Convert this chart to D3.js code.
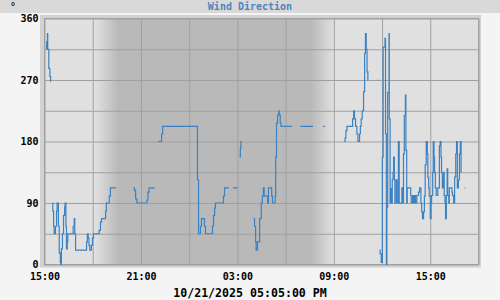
<!DOCTYPE html>
<html>
<head>
<meta charset="utf-8">
<script src="https://cdn.jsdelivr.net/npm/d3@7"></script>
<style>
  body { margin: 0; background: #f4f4f4; }
  svg { display: block; font-family: "DejaVu Sans Mono", monospace; }
</style>
</head>
<body>
<script>
const w = 500;
const h = 300;
const margin = {top: 18.5, right: 21.5, bottom: 35.5, left: 44.5};

const startDay = "2025-10-20";
const domainTimes = ["15:00", "00:00", "18:00"]; // start, midnight, end (next day)
const gridTicks = ["15:00","18:00","21:00","00:00","03:00","06:00","09:00","12:00","15:00","18:00"];
const labelTicks = ["15:00","21:00","03:00","09:00","15:00"];
const yGrid = [0,45,90,135,180,225,270,315,360];
const yLabels = [0,90,180,270,360];
const nightTimes = ["18:10","19:35","07:35","09:00"]; // fade in, dark, fade out, light
const titleText = "Wind Direction";
const dateText = "10/21/2025 05:05:00 PM";

const windTimes = [
  "15:06","15:08","15:11","15:12","15:16","15:20","15:23","15:24","15:27",
  "15:30","15:31","15:34","15:36","15:41","15:45","15:47","15:52","15:55","15:59","16:01","16:03","16:07","16:11","16:15","16:17","16:20","16:22","16:25","16:27","16:47","16:51","16:53","16:56","17:37","17:40","17:43","17:46","17:49","17:55","17:59","18:03","18:24","18:29","18:33","18:48","18:51","19:02","19:06","19:27","19:30",
  "20:32","20:36","20:40","20:45","21:22","21:26","21:30","21:52","21:55",
  "22:04","22:17","22:21","00:31","00:35","00:42","00:46","00:57","01:01","01:27","01:31","01:35","01:38","02:08","02:12","02:28","02:31",
  "02:44","03:01","03:03",
  "03:08","03:11","03:13","03:17","03:20",
  "04:00","04:04","04:08","04:10","04:15","04:23","04:29","04:33","04:37","04:40","04:53","04:56","05:08","05:11","05:21","05:23","05:26","05:30","05:34","05:36","05:40","05:43","06:24","06:27",
  "06:55","07:42","07:45",
  "08:20","08:27","08:30",
  "09:39","09:42","09:45","09:49","10:10","10:14","10:17","10:21","10:26","10:30","10:36","10:39","10:42","10:46","10:51","10:55","10:58","11:01","11:04","11:07","11:09","11:12",
  "11:43","11:46","11:47",
  "11:51","11:53","11:57","12:01","12:04","12:11","12:13","12:16","12:18","12:21","12:26","12:27","12:30","12:32","12:35","12:38","12:41","12:43","12:46","12:48","12:53","12:56","13:01","13:04","13:14","13:18","13:20","13:23","13:27","13:29","13:32","13:34","13:47","13:49","13:54","13:58","14:02","14:05","14:10","14:16","14:20","14:25","14:28","14:31","14:35","14:38","14:41","14:45","14:49","14:51","14:54","14:56","15:00","15:03","15:05","15:09","15:11","15:14","15:16","15:19","15:22","15:28","15:34","15:37","15:40","15:42","15:45","15:48","15:50","15:52","15:55","15:57","16:00","16:03","16:05","16:09","16:11","16:21","16:23","16:27","16:31","16:35","16:38","16:41","16:45","16:49","16:52","16:55","16:57","17:00",
  "17:08","17:11"
];
const windDirs = [
  315,326,338,315,287,275,268,268,null,
  90,78,56,45,56,78,90,56,17,3,0,23,45,72,84,90,56,23,33,45,56,67,45,21,33,45,39,28,21,28,39,45,50,62,67,78,90,100,112,112,null,
  112,108,96,90,94,106,112,112,null,
  180,191,202,124,45,56,67,56,45,56,72,83,90,100,112,112,null,
  112,112,null,
  157,170,180,180,null,
  67,56,33,21,33,67,90,100,112,100,90,112,100,90,100,157,207,219,225,219,207,202,202,null,
  202,202,null,
  202,202,null,
  180,185,196,202,213,225,213,202,191,180,191,202,213,225,253,309,338,315,282,270,270,null,
  270,270,null,
  21,16,3,157,318,331,191,0,84,252,338,213,90,111,90,124,135,157,124,90,124,90,180,90,112,90,162,218,248,167,90,112,101,90,101,90,101,90,101,106,112,90,77,67,77,100,146,180,162,128,112,100,67,90,101,135,180,157,135,112,101,112,174,180,157,135,112,124,135,101,90,67,101,140,101,90,112,106,101,90,128,162,180,112,124,162,180,135,135,null,
  112,112
];

// turn "HH:MM" strings into dates, rolling over to the next day when the clock goes back
const parseStamp = d3.timeParse("%Y-%m-%d %H:%M");
function toDates(list) {
  let day = parseStamp(startDay + " 00:00");
  let prev = -1;
  return list.map(s => {
    const [hh, mm] = s.split(":").map(Number);
    const m = hh * 60 + mm;
    if (m < prev) day = d3.timeDay.offset(day, 1);
    prev = m;
    return new Date(day.getTime() + m * 60000);
  });
}

const dates = toDates(windTimes);
const data = dates.map((t, i) => ({t: t, v: windDirs[i]}));
const gridDates = toDates(gridTicks);
const labelDates = toDates(labelTicks);
const nightDates = toDates(nightTimes);
const domainDates = toDates(domainTimes);
const d0 = domainDates[0], d1 = domainDates[2];

const innerW = w - margin.left - margin.right;
const innerH = h - margin.top - margin.bottom;

const xScale = d3.scaleTime().domain([d0, d1]).range([0, innerW]);
const yScale = d3.scaleLinear().domain([0, 360]).range([innerH, 0]);

const svg = d3.select("body").append("svg")
  .attr("width", w)
  .attr("height", h);

svg.append("rect").attr("width", w).attr("height", h).attr("fill", "#f4f4f4");

// title bar
svg.append("rect").attr("x", 0).attr("y", 0).attr("width", w).attr("height", 13).attr("fill", "#d9d9d9");
svg.append("text")
  .attr("x", w / 2).attr("y", 10)
  .attr("text-anchor", "middle")
  .attr("font-size", 10).attr("font-weight", "bold")
  .attr("fill", "#4a86c0")
  .text(titleText);
svg.append("text")
  .attr("x", 10).attr("y", 10)
  .attr("font-size", 10).attr("font-weight", "bold")
  .attr("fill", "#222")
  .text("°");

// outer frame
svg.append("rect")
  .attr("x", margin.left - 4.5).attr("y", margin.top - 3.5)
  .attr("width", innerW + 7).attr("height", innerH + 6.5)
  .attr("fill", "#d2d2d2");

const g = svg.append("g").attr("transform", `translate(${margin.left},${margin.top})`);

// night shading gradient
const defs = svg.append("defs");
const grad = defs.append("linearGradient")
  .attr("id", "night")
  .attr("gradientUnits", "userSpaceOnUse")
  .attr("x1", 0).attr("x2", innerW).attr("y1", 0).attr("y2", 0);
const light = "#e0e0e0", dark = "#b9b9b9";
[[d0, light], [nightDates[0], light], [nightDates[1], dark], [nightDates[2], dark], [nightDates[3], light], [d1, light]]
  .forEach(([t, c]) => {
    grad.append("stop").attr("offset", xScale(t) / innerW).attr("stop-color", c);
  });

g.append("rect").attr("width", innerW).attr("height", innerH).attr("fill", "url(#night)");

// grid
const yGridAxis = d3.axisLeft(yScale).tickValues(yGrid).tickSize(-innerW).tickFormat("");
g.append("g").attr("class", "grid").call(yGridAxis);
const xGridAxis = d3.axisBottom(xScale).tickValues(gridDates).tickSize(-innerH).tickFormat("");
g.append("g").attr("class", "grid").attr("transform", `translate(0,${innerH})`).call(xGridAxis);
g.selectAll(".grid .domain").remove();
g.selectAll(".grid line").attr("stroke", "#a0a0a0").attr("stroke-width", 1);
g.append("rect").attr("width", innerW).attr("height", innerH)
  .attr("fill", "none").attr("stroke", "#a0a0a0");

// wind line
const line = d3.line()
  .defined(d => d.v !== null)
  .curve(d3.curveStepAfter)
  .x(d => xScale(d.t))
  .y(d => yScale(d.v));

g.append("path")
  .datum(data)
  .attr("fill", "none")
  .attr("stroke", "#3b82c2")
  .attr("stroke-width", 1.2)
  .attr("d", line);

// axis labels
const timeFmt = d3.timeFormat("%H:%M");
const xAxis = d3.axisBottom(xScale).tickValues(labelDates).tickSize(0).tickPadding(8).tickFormat(timeFmt);
const xa = g.append("g").attr("transform", `translate(0,${innerH})`).call(xAxis);
const yAxis = d3.axisLeft(yScale).tickValues(yLabels).tickSize(0).tickPadding(6);
const ya = g.append("g").call(yAxis);
[xa, ya].forEach(a => {
  a.select(".domain").remove();
  a.selectAll("text")
    .attr("fill", "#000")
    .attr("font-family", "DejaVu Sans Mono")
    .attr("font-size", 10)
    .attr("font-weight", "bold");
});

svg.append("text")
  .attr("x", 250).attr("y", 296.5)
  .attr("text-anchor", "middle")
  .attr("font-size", 11.6).attr("font-weight", "bold")
  .attr("fill", "#000")
  .text(dateText);
</script>
</body>
</html>
